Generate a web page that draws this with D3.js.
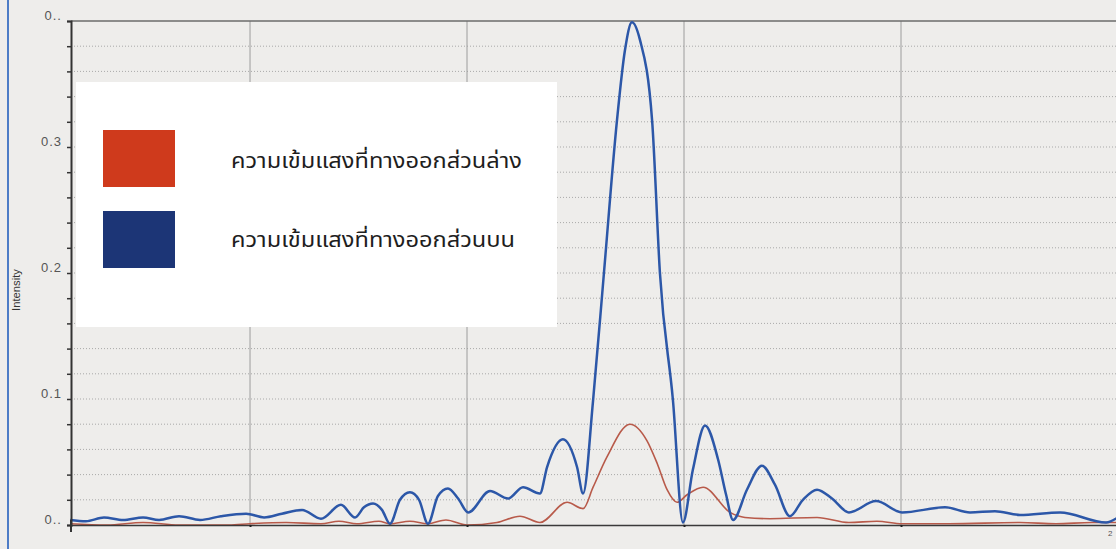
<!DOCTYPE html>
<html>
<head>
<meta charset="utf-8">
<script src="https://cdn.jsdelivr.net/npm/d3@7"></script>
<style>
  body { margin: 0; background: #eeedeb; }
  svg { display: block; }
</style>
</head>
<body>
<div id="chart"></div>
<script>
// upper output (blue) : position, intensity
var blueX = [-2.829, -2.756, -2.673, -2.585, -2.493, -2.419, -2.327, -2.230, -2.134, -2.018,
  -1.935, -1.853, -1.760, -1.673, -1.581, -1.516, -1.475, -1.433, -1.392, -1.355,
  -1.309, -1.263, -1.221, -1.180, -1.134, -1.088, -1.041, -0.995, -0.894, -0.811,
  -0.742, -0.664, -0.631, -0.558, -0.493, -0.465, -0.419, -0.369, -0.309, -0.272,
  -0.240, -0.203, -0.147, -0.111, -0.051, -0.005, 0.041, 0.097, 0.157, 0.194,
  0.226, 0.290, 0.359, 0.419, 0.488, 0.548, 0.613, 0.682, 0.760, 0.885,
  1.005, 1.203, 1.318, 1.433, 1.548, 1.733, 1.945, 2.000];
var blueY = [0.004, 0.003, 0.006, 0.004, 0.006, 0.004, 0.007, 0.004, 0.007, 0.009,
  0.006, 0.009, 0.012, 0.005, 0.016, 0.006, 0.014, 0.017, 0.012, 0.001,
  0.020, 0.026, 0.020, 0.001, 0.023, 0.029, 0.021, 0.010, 0.027, 0.021,
  0.030, 0.025, 0.046, 0.068, 0.046, 0.025, 0.099, 0.200, 0.321, 0.377,
  0.399, 0.385, 0.321, 0.200, 0.099, 0.002, 0.044, 0.079, 0.052, 0.024,
  0.004, 0.028, 0.047, 0.032, 0.007, 0.020, 0.028, 0.021, 0.010, 0.019,
  0.010, 0.014, 0.010, 0.011, 0.008, 0.010, 0.002, 0.006];

// lower output (red)
var redX = [-2.829, -2.659, -2.493, -2.327, -2.097, -2.000, -1.834, -1.673, -1.590, -1.507,
  -1.406, -1.355, -1.263, -1.180, -1.097, -1.000, -0.862, -0.756, -0.664, -0.539,
  -0.465, -0.419, -0.355, -0.249, -0.171, -0.124, -0.078, -0.032, 0.014, 0.088,
  0.212, 0.281, 0.396, 0.613, 0.760, 0.889, 1.005, 1.221, 1.548, 1.714,
  1.880, 2.000];
var redY = [0.001, 0.000, 0.002, 0.000, 0.000, 0.001, 0.002, 0.001, 0.003, 0.001,
  0.003, 0.001, 0.003, 0.001, 0.004, 0.000, 0.002, 0.007, 0.002, 0.018,
  0.013, 0.030, 0.054, 0.080, 0.067, 0.049, 0.028, 0.018, 0.024, 0.030,
  0.010, 0.006, 0.005, 0.006, 0.002, 0.003, 0.001, 0.001, 0.002, 0.001,
  0.002, 0.002];

var yLabels = ["0..", "0.1", "0.2", "0.3", "0.."];
var yLabelVals = [0, 0.1, 0.2, 0.3, 0.4];
var xGrid = [-2, -1, 0, 1, 2];
var legendNames = ["ความเข้มแสงที่ทางออกส่วนล่าง", "ความเข้มแสงที่ทางออกส่วนบน"];
var legendColors = ["#cf3a1c", "#1c3576"];
var legendWidths = [291, 284];

var W = 1116, H = 549;
var svg = d3.select("#chart").append("svg")
  .attr("width", W).attr("height", H);

svg.append("rect").attr("width", W).attr("height", H).attr("fill", "#eeedeb");

var x = d3.scaleLinear().domain([-2.825, 2]).range([71, 1118]);
var y = d3.scaleLinear().domain([0, 0.4]).range([525, 21]);

// blue line at far left
svg.append("line")
  .attr("x1", 8).attr("x2", 8).attr("y1", 0).attr("y2", H)
  .attr("stroke", "#4d7cc6").attr("stroke-width", 2);

// horizontal dotted grid every 0.02
svg.append("g").selectAll("line")
  .data(d3.range(1, 20).map(function (i) { return i * 0.02; }))
  .enter().append("line")
  .attr("x1", 71).attr("x2", W)
  .attr("y1", function (d) { return y(d); })
  .attr("y2", function (d) { return y(d); })
  .attr("stroke", "#a9a9a9")
  .attr("stroke-width", 1)
  .attr("stroke-dasharray", "1,2");

// vertical grid
svg.append("g").selectAll("line")
  .data(xGrid)
  .enter().append("line")
  .attr("x1", function (d) { return x(d); })
  .attr("x2", function (d) { return x(d); })
  .attr("y1", 21).attr("y2", 525)
  .attr("stroke", "#9c9c9c")
  .attr("stroke-width", 1);

// top frame line
svg.append("line")
  .attr("x1", 71).attr("x2", W).attr("y1", 21).attr("y2", 21)
  .attr("stroke", "#6b6b6b").attr("stroke-width", 1.5);

// legend box
var leg = svg.append("g");
leg.append("rect")
  .attr("x", 76).attr("y", 82).attr("width", 481).attr("height", 245)
  .attr("fill", "#ffffff");
leg.selectAll(".sw")
  .data(legendColors)
  .enter().append("rect")
  .attr("x", 103)
  .attr("y", function (d, i) { return 130 + i * 81; })
  .attr("width", 72).attr("height", 57)
  .attr("fill", function (d) { return d; });
leg.selectAll(".lt")
  .data(legendNames)
  .enter().append("text")
  .attr("x", 231)
  .attr("y", function (d, i) { return 168 + i * 79; })
  .attr("font-family", "'Noto Sans Thai', Tahoma, 'DejaVu Sans', sans-serif")
  .attr("font-size", 21)
  .attr("fill", "#1e1e1e")
  .attr("textLength", function (d, i) { return legendWidths[i]; })
  .attr("lengthAdjust", "spacingAndGlyphs")
  .text(function (d) { return d; });

// curves
var line = d3.line()
  .x(function (d) { return x(d[0]); })
  .y(function (d) { return y(d[1]); })
  .curve(d3.curveMonotoneX);

var redData = redX.map(function (v, i) { return [v, redY[i]]; });
var blueData = blueX.map(function (v, i) { return [v, blueY[i]]; });

svg.append("path")
  .datum(redData)
  .attr("d", line)
  .attr("fill", "none")
  .attr("stroke", "#b85a4a")
  .attr("stroke-width", 1.6);

svg.append("path")
  .datum(blueData)
  .attr("d", line)
  .attr("fill", "none")
  .attr("stroke", "#2c57a8")
  .attr("stroke-width", 2.5);

// bottom axis
var xAxis = svg.append("g")
  .attr("transform", "translate(0,525)")
  .call(d3.axisBottom(x).tickValues(xGrid).tickSize(2).tickFormat(""));
xAxis.select(".domain").attr("stroke", "#3a3a3a").attr("stroke-width", 1.5);
xAxis.selectAll(".tick line").attr("stroke", "#222").attr("stroke-width", 2);

// left axis with minor ticks
var yAxis = svg.append("g")
  .attr("transform", "translate(71,0)")
  .call(d3.axisLeft(y).tickValues(d3.range(0, 21).map(function (i) { return i * 0.02; }))
    .tickSize(4).tickFormat(""));
yAxis.select(".domain").attr("stroke", "#333").attr("stroke-width", 2);
yAxis.selectAll(".tick line").attr("stroke", "#333").attr("stroke-width", 1.5);

svg.append("line")
  .attr("x1", 71).attr("x2", 71).attr("y1", 520).attr("y2", 532)
  .attr("stroke", "#333").attr("stroke-width", 2);

// y labels
svg.append("g").selectAll("text")
  .data(yLabelVals)
  .enter().append("text")
  .attr("x", 62)
  .attr("y", function (d) { return y(d) - 1; })
  .attr("text-anchor", "end")
  .attr("font-family", "'Liberation Sans', Arial, sans-serif")
  .attr("font-size", 13)
  .attr("letter-spacing", 1)
  .attr("fill", "#555")
  .text(function (d, i) { return yLabels[i]; });

// y title
svg.append("text")
  .attr("transform", "translate(20,290) rotate(-90)")
  .attr("text-anchor", "middle")
  .attr("font-family", "'Liberation Sans Narrow', 'Liberation Sans', sans-serif")
  .attr("font-size", 10)
  .attr("fill", "#333")
  .attr("textLength", 42)
  .attr("lengthAdjust", "spacingAndGlyphs")
  .text("Intensity");

// x label at right edge
svg.append("text")
  .attr("x", 1108)
  .attr("y", 536)
  .attr("font-family", "'Liberation Sans', sans-serif")
  .attr("font-size", 8)
  .attr("fill", "#555")
  .text("2");
</script>
</body>
</html>
